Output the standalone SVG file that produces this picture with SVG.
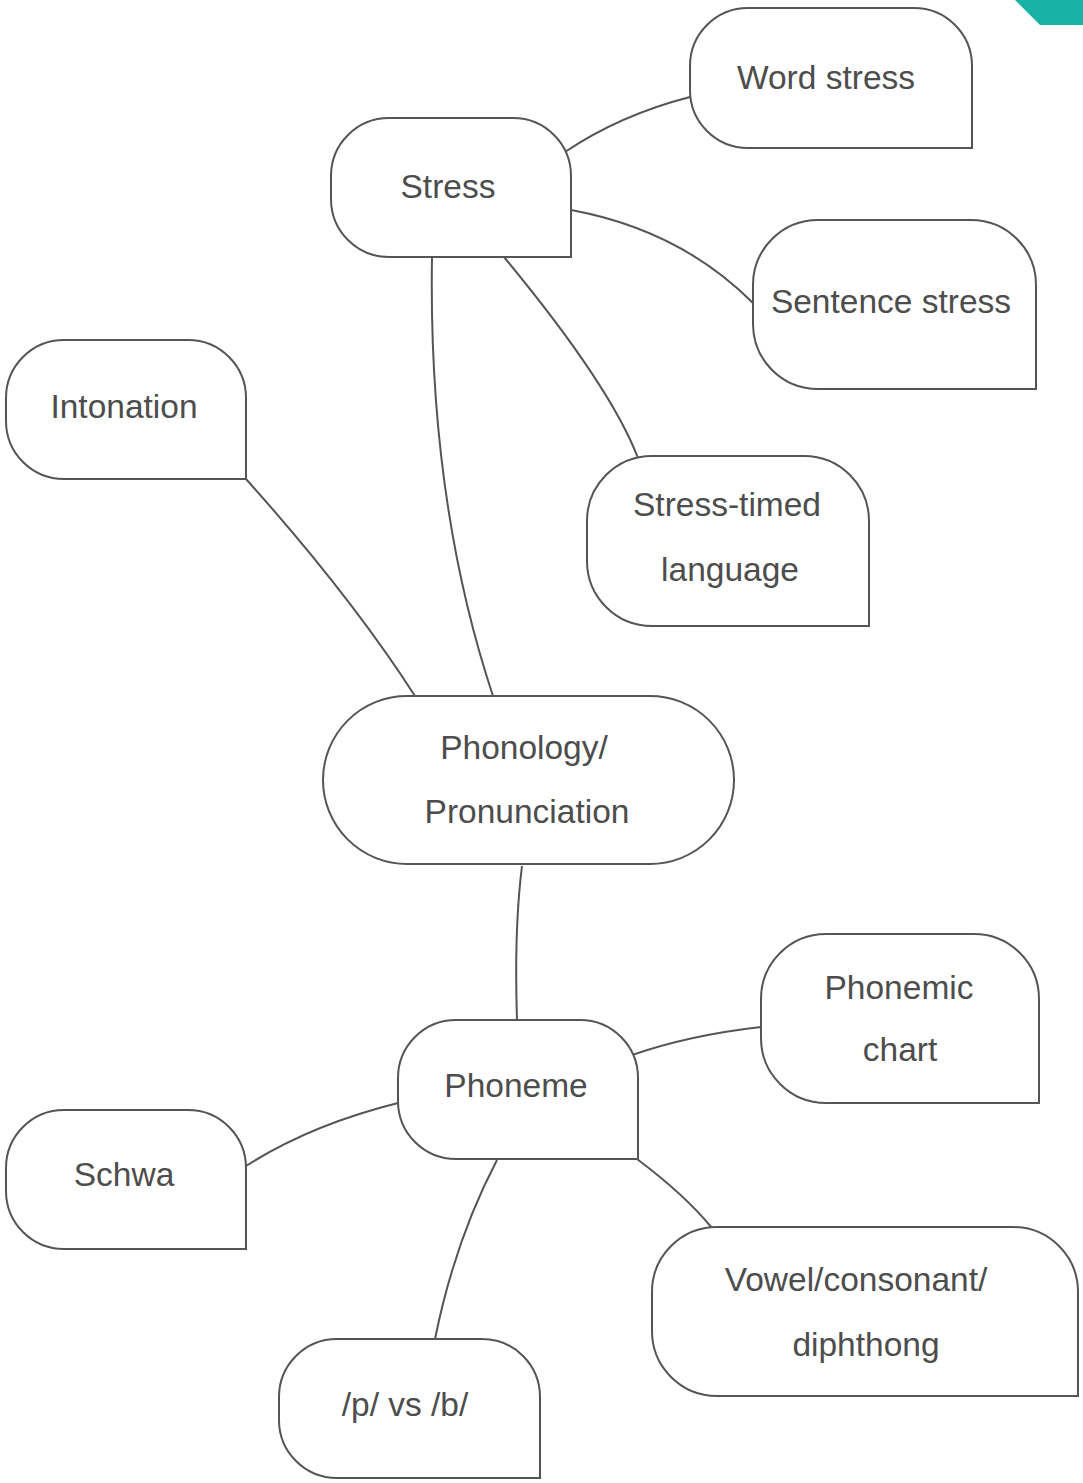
<svg xmlns="http://www.w3.org/2000/svg" width="1083" height="1483" viewBox="0 0 1083 1483">
<style>
.node{fill:#fff;stroke:#555;stroke-width:2}
.edge{fill:none;stroke:#555;stroke-width:2}
.t{font-family:"Liberation Sans",Arial,sans-serif;font-size:33.5px;fill:#4d4d4d;text-anchor:middle}
</style>
<rect width="1083" height="1483" fill="#fff"/>
<polygon points="1015,0 1083,0 1083,25 1040,25" fill="#19b3a6"/>
<g id="connectors">
<path class="edge" d="M565,152 Q620,115 690,97"/>
<path class="edge" d="M571,210 Q680,230 753,303"/>
<path class="edge" d="M504,257 Q610,385 638,458"/>
<path class="edge" d="M432,257 Q428,500 493,696"/>
<path class="edge" d="M246,479 Q350,595 415,696"/>
<path class="edge" d="M522,866 Q514,930 517,1020"/>
<path class="edge" d="M632,1055 Q690,1035 761,1027"/>
<path class="edge" d="M398,1103 Q310,1125 246,1166"/>
<path class="edge" d="M637,1159 Q685,1195 712,1228"/>
<path class="edge" d="M497,1160 Q455,1240 435,1339"/>
</g>
<g id="n-word-stress"><path class="node" d="M748,8 H914 A58 58 0 0 1 972,66 V148 H748 A58 58 0 0 1 690,90 V66 A58 58 0 0 1 748,8 Z"/><text class="t" x="826" y="89">Word stress</text></g>
<g id="n-stress"><path class="node" d="M389,118 H513 A58 58 0 0 1 571,176 V257 H389 A58 58 0 0 1 331,199 V176 A58 58 0 0 1 389,118 Z"/><text class="t" x="448" y="198">Stress</text></g>
<g id="n-sentence-stress"><path class="node" d="M818,220 H971 A65 65 0 0 1 1036,285 V389 H818 A65 65 0 0 1 753,324 V285 A65 65 0 0 1 818,220 Z"/><text class="t" x="891" y="313">Sentence stress</text></g>
<g id="n-intonation"><path class="node" d="M64,340 H188 A58 58 0 0 1 246,398 V479 H64 A58 58 0 0 1 6,421 V398 A58 58 0 0 1 64,340 Z"/><text class="t" x="124" y="418">Intonation</text></g>
<g id="n-stress-timed"><path class="node" d="M652,456 H804 A65 65 0 0 1 869,521 V626 H652 A65 65 0 0 1 587,561 V521 A65 65 0 0 1 652,456 Z"/><text class="t" x="727" y="516">Stress-timed</text><text class="t" x="730" y="581">language</text></g>
<g id="n-phonology"><rect class="node" x="323" y="696" width="411" height="168" rx="84" ry="84"/><text class="t" x="524" y="759">Phonology/</text><text class="t" x="527" y="823">Pronunciation</text></g>
<g id="n-phonemic-chart"><path class="node" d="M826,934 H974 A65 65 0 0 1 1039,999 V1103 H826 A65 65 0 0 1 761,1038 V999 A65 65 0 0 1 826,934 Z"/><text class="t" x="899" y="999">Phonemic</text><text class="t" x="900" y="1061">chart</text></g>
<g id="n-phoneme"><path class="node" d="M456,1020 H580 A58 58 0 0 1 638,1078 V1159 H456 A58 58 0 0 1 398,1101 V1078 A58 58 0 0 1 456,1020 Z"/><text class="t" x="516" y="1097">Phoneme</text></g>
<g id="n-schwa"><path class="node" d="M64,1110 H188 A58 58 0 0 1 246,1168 V1249 H64 A58 58 0 0 1 6,1191 V1168 A58 58 0 0 1 64,1110 Z"/><text class="t" x="124" y="1186">Schwa</text></g>
<g id="n-vowel"><path class="node" d="M717,1227 H1013 A65 65 0 0 1 1078,1292 V1396 H717 A65 65 0 0 1 652,1331 V1292 A65 65 0 0 1 717,1227 Z"/><text class="t" x="856" y="1291">Vowel/consonant/</text><text class="t" x="866" y="1356">diphthong</text></g>
<g id="n-p-vs-b"><path class="node" d="M337,1339 H482 A58 58 0 0 1 540,1397 V1478 H337 A58 58 0 0 1 279,1420 V1397 A58 58 0 0 1 337,1339 Z"/><text class="t" x="405" y="1416">/p/ vs /b/</text></g>
</svg>
